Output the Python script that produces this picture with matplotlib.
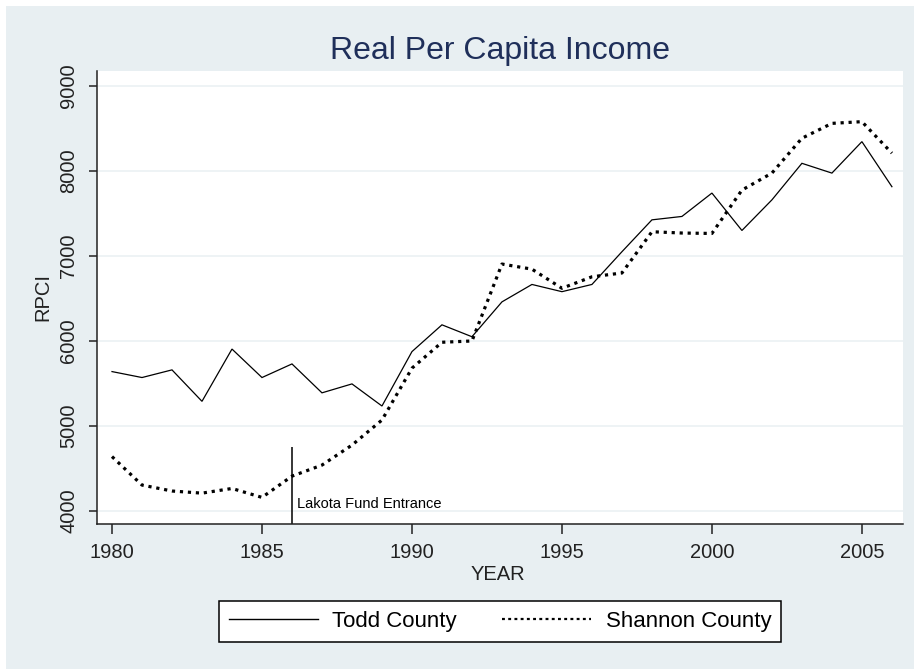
import matplotlib
matplotlib.use("Agg")
import matplotlib.pyplot as plt
from matplotlib.lines import Line2D
from matplotlib.patches import Rectangle

years = list(range(1980, 2007))
todd = [5640, 5570, 5660, 5290, 5905, 5570, 5730, 5390, 5495, 5235,
        5875, 6190, 6050, 6460, 6665, 6580, 6665, 7050, 7425, 7465,
        7740, 7300, 7660, 8090, 7975, 8345, 7815]
shannon = [4640, 4305, 4235, 4210, 4265, 4160, 4410, 4540, 4775, 5070,
           5680, 5985, 6000, 6905, 6845, 6620, 6755, 6800, 7285, 7270,
           7265, 7775, 7975, 8385, 8560, 8580, 8210]
xticks = [1980, 1985, 1990, 1995, 2000, 2005]
yticks = [4000, 5000, 6000, 7000, 8000, 9000]
event_year = 1986
event_top = 4750
event_label = "Lakota Fund Entrance"

plt.rcParams['font.family'] = ['Liberation Sans', 'DejaVu Sans']

W, H = 914, 669
fig = plt.figure(figsize=(W / 100, H / 100), dpi=100)
fig.patch.set_facecolor('white')
bg = '#E8EFF2'
fig.patches.append(Rectangle((6 / W, 0), 1 - 6 / W, 1 - 6 / H, transform=fig.transFigure,
                             facecolor=bg, edgecolor='none', zorder=-10))

ax = fig.add_axes([97 / W, 1 - 524 / H, (903 - 97) / W, (524 - 71) / H])
ax.set_facecolor('white')
ax.plot(years, todd, color='black', lw=0.9, solid_joinstyle='miter')
ax.plot(years, shannon, color='black', lw=2.3, linestyle=(0, (1.0, 1.5)))

ax.set_xlim(1979.5, 2006.37)
ax.set_ylim(3847, 9176)
ax.set_xticks(xticks)
ax.set_yticks(yticks)
ax.grid(axis='y', color='#EBF1F3', lw=1.2)
ax.set_axisbelow(True)
for s in ['top', 'right']:
    ax.spines[s].set_visible(False)
for s in ['left', 'bottom']:
    ax.spines[s].set_linewidth(1.1)
    ax.spines[s].set_color('#222222')
ax.tick_params(axis='x', direction='out', length=7, width=1.1, pad=7,
               labelsize=14.5, colors='#222222')
ax.tick_params(axis='y', direction='out', length=5.5, width=1.1, pad=8,
               labelsize=14.5, colors='#222222', labelrotation=90)
for lab in ax.get_yticklabels():
    lab.set_va('center')

ax.vlines(event_year, 3847, event_top, color='black', lw=1.1)
ax.text(event_year + 0.17, 4035, event_label, fontsize=10.5, va='baseline', ha='left')

fig.text(500 / W, 1 - 59 / H, "Real Per Capita Income", fontsize=23, color='#1F2F5A',
         ha='center', va='baseline')
fig.text(498 / W, 1 - 575 / H, "YEAR", fontsize=14.5, color='#222222', ha='center', va='center')
fig.text(43 / W, 1 - 297 / H, "RPCI", fontsize=14.5, color='#222222', ha='center', va='center',
         rotation=90)

handles = [Line2D([], [], color='black', lw=1.0),
           Line2D([], [], color='black', lw=1.6, linestyle=(0, (1.3, 1.5)))]
leg = fig.legend(handles, ["Todd County", "Shannon County"], loc='center',
                 bbox_to_anchor=(500 / W, 1 - 621.5 / H), ncol=2, fontsize=16,
                 handlelength=4.0, handletextpad=0.65, columnspacing=2.05,
                 frameon=True, fancybox=False, borderpad=0.45, borderaxespad=0)
fr = leg.get_frame()
fr.set_edgecolor('black')
fr.set_linewidth(1.1)
fr.set_facecolor('white')
fr.set_alpha(1)

fig.savefig('out.png', dpi=100, facecolor=fig.get_facecolor())
